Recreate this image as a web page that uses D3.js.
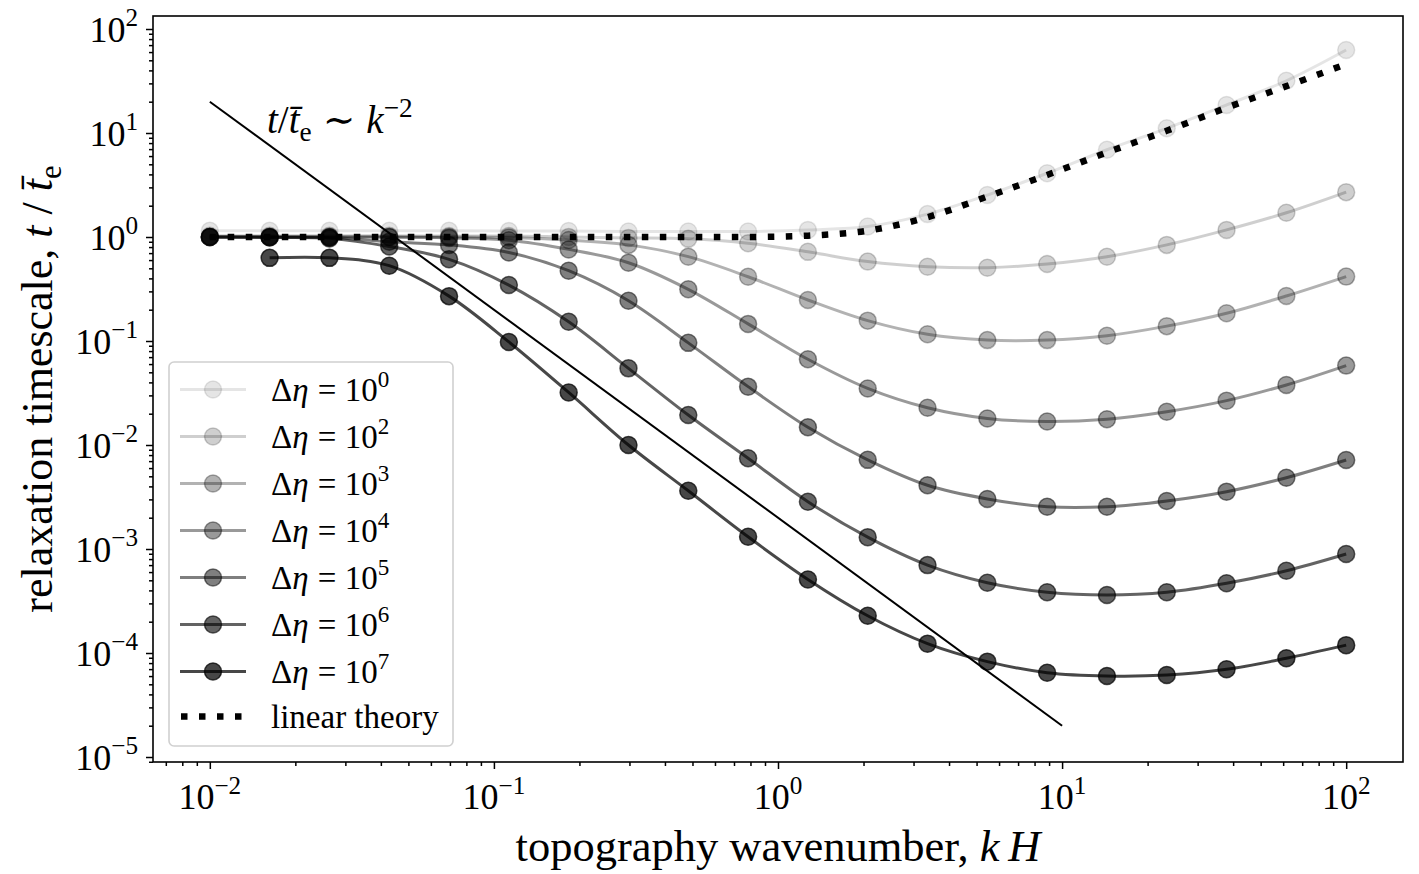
<!DOCTYPE html>
<html>
<head>
<meta charset="utf-8">
<script src="https://cdn.jsdelivr.net/npm/d3@7"></script>
<style>
  body { margin: 0; background: #fff; }
  text { font-family: "Liberation Serif", "DejaVu Serif", serif; fill: #000; }
</style>
</head>
<body>
<svg id="chart" width="1419" height="874"></svg>
<script>
// wavenumbers k H (20 log-spaced samples)
const kH = [0.01, 0.016238, 0.026367, 0.042813, 0.069519, 0.112884, 0.183298, 0.297635,
  0.483293, 0.78476, 1.274275, 2.069138, 3.359818, 5.455595, 8.858668, 14.3845,
  23.35721, 37.9269, 61.58482, 100];

const etaExp = ['0', '2', '3', '4', '5', '6', '7'];
const etaAlpha = [0.1, 0.19, 0.3, 0.4, 0.5, 0.61, 0.72];

const eta0 = [1.15, 1.15, 1.15, 1.15, 1.15, 1.14, 1.14, 1.13, 1.13, 1.13, 1.17, 1.26, 1.66, 2.53, 4.1, 6.9, 11.1, 18.6, 31.8, 62.8];
const eta2 = [1.03, 1.03, 1.03, 1.03, 1.02, 1.02, 1.0, 0.98, 0.96, 0.87, 0.72, 0.58, 0.518, 0.507, 0.55, 0.647, 0.84, 1.17, 1.71, 2.7];
const eta3 = [1.0, 1.0, 1.0, 1.0, 1.0, 0.99, 0.935, 0.84, 0.647, 0.415, 0.248, 0.157, 0.116, 0.102, 0.102, 0.1125, 0.139, 0.185, 0.271, 0.416];
const eta4 = [1.0, 1.0, 1.0, 1.0, 0.98, 0.93, 0.76, 0.566, 0.314, 0.146, 0.0667, 0.035, 0.0228, 0.018, 0.0168, 0.0177, 0.0209, 0.0267, 0.0378, 0.058];
const eta5 = [1.0, 1.0, 0.99, 0.9, 0.84, 0.71, 0.474, 0.244, 0.096, 0.0364, 0.0148, 0.0072, 0.0041, 0.00303, 0.00255, 0.00255, 0.0029, 0.00356, 0.00485, 0.00718];
const eta6 = [1.0, 0.99, 0.97, 0.81, 0.61, 0.345, 0.153, 0.0546, 0.0194, 0.00745, 0.00285, 0.0013, 7.0e-4, 4.74e-4, 3.84e-4, 3.61e-4, 3.84e-4, 4.68e-4, 6.18e-4, 8.95e-4];
const eta7 = [null, 0.63, 0.63, 0.53, 0.27, 0.098, 0.032, 0.01, 0.00363, 0.00131, 5.1e-4, 2.28e-4, 1.23e-4, 8.26e-5, 6.47e-5, 6.01e-5, 6.14e-5, 6.97e-5, 8.9e-5, 1.19e-4];
const series = [eta0, eta2, eta3, eta4, eta5, eta6, eta7];

const linearTheory = [1, 1, 1, 1, 1, 1, 1, 1, 1, 1.0, 1.03, 1.15, 1.55, 2.45, 3.95, 6.5, 10.5, 17.5, 28.2, 46];

// k^-2 guide line end points
const slopeK = [0.01, 10];
const slopeT = [20, 2e-5];

const xTickExp = [-2, -1, 0, 1, 2];
const yTickExp = [-5, -4, -3, -2, -1, 0, 1, 2];

const svg = d3.select('#chart');
const mLeft = 153, mRight = 1403, mTop = 16, mBottom = 762;

const x = d3.scaleLog().domain([Math.pow(10, -2.2), Math.pow(10, 2.2)]).range([mLeft, mRight]);
const y = d3.scaleLog().domain([Math.pow(10, -5.048), Math.pow(10, 2.125)]).range([mBottom, mTop]);

function minorTicks(scale) {
    const [a, b] = scale.domain();
    const out = [];
    for (let e = Math.floor(Math.log10(a)); e <= Math.ceil(Math.log10(b)); e++) {
        for (let m = 2; m < 10; m++) {
            const v = m * Math.pow(10, e);
            if (v >= a && v <= b) out.push(v);
        }
    }
    return out;
}

// rich text: parts of {t, it, sup, sub, dx}
function rich(sel, parts, size) {
    let shift = 0;
    parts.forEach((p) => {
        const target = p.sup ? -0.42 * size : p.sub ? 0.2 * size : 0;
        sel.append('tspan')
            .attr('dy', target - shift)
            .attr('dx', p.dx || 0)
            .attr('font-size', (p.sup || p.sub) ? size * 0.7 : size)
            .attr('font-style', p.it ? 'italic' : 'normal')
            .text(p.t);
        shift = target;
    });
}

const plot = svg.append('g');

// series
const line = d3.line()
    .defined((d) => d[1] != null)
    .x((d) => x(d[0]))
    .y((d) => y(d[1]))
    .curve(d3.curveCatmullRom.alpha(0.5));

series.forEach((vals, s) => {
    const pts = kH.map((k, i) => [k, vals[i]]);
    const g = plot.append('g');
    g.append('path')
        .datum(pts)
        .attr('d', line)
        .attr('fill', 'none')
        .attr('stroke', '#000')
        .attr('stroke-opacity', etaAlpha[s])
        .attr('stroke-width', 3);
    g.selectAll('circle')
        .data(pts.filter((d) => d[1] != null))
        .enter()
        .append('circle')
        .attr('cx', (d) => x(d[0]))
        .attr('cy', (d) => y(d[1]))
        .attr('r', 8.5)
        .attr('fill', '#000')
        .attr('fill-opacity', etaAlpha[s])
        .attr('stroke', '#000')
        .attr('stroke-opacity', etaAlpha[s])
        .attr('stroke-width', 1.5);
});

// linear theory
plot.append('path')
    .datum(kH.map((k, i) => [k, linearTheory[i]]))
    .attr('d', line)
    .attr('fill', 'none')
    .attr('stroke', '#000')
    .attr('stroke-width', 6.5)
    .attr('stroke-dasharray', '6.5,11.5');

// k^-2 slope
plot.append('line')
    .attr('x1', x(slopeK[0])).attr('y1', y(slopeT[0]))
    .attr('x2', x(slopeK[1])).attr('y2', y(slopeT[1]))
    .attr('stroke', '#000')
    .attr('stroke-width', 2);

const ann = svg.append('text').attr('x', 267).attr('y', 133);
rich(ann, [
    { t: 't', it: true }, { t: '/' }, { t: 't\u0304', it: true }, { t: 'e', sub: true },
    { t: '\u223C', dx: 11 }, { t: 'k', it: true, dx: 11 }, { t: '\u22122', sup: true }
], 39);

// axes
const xAxis = svg.append('g').attr('transform', `translate(0,${mBottom})`);
xAxis.call(d3.axisBottom(x).tickValues(xTickExp.map((e) => Math.pow(10, e))).tickSize(7).tickFormat(''));
xAxis.append('g').call(d3.axisBottom(x).tickValues(minorTicks(x)).tickSize(4).tickFormat(''));
const yAxis = svg.append('g').attr('transform', `translate(${mLeft},0)`);
yAxis.call(d3.axisLeft(y).tickValues(yTickExp.map((e) => Math.pow(10, e))).tickSize(7).tickFormat(''));
yAxis.append('g').call(d3.axisLeft(y).tickValues(minorTicks(y)).tickSize(4).tickFormat(''));
svg.selectAll('.domain').remove();
svg.selectAll('.tick line').attr('stroke', '#000').attr('stroke-width', 1.5);

const sup = (e) => (e < 0 ? '\u2212' + (-e) : String(e));

xTickExp.forEach((e) => {
    const t = svg.append('text')
        .attr('x', x(Math.pow(10, e)))
        .attr('y', 809)
        .attr('text-anchor', 'middle');
    rich(t, [{ t: '10' }, { t: sup(e), sup: true }], 36);
});
yTickExp.forEach((e) => {
    const t = svg.append('text')
        .attr('x', 138)
        .attr('y', y(Math.pow(10, e)) + 12.5)
        .attr('text-anchor', 'end');
    rich(t, [{ t: '10' }, { t: sup(e), sup: true }], 36);
});

// frame
svg.append('rect')
    .attr('x', mLeft).attr('y', mTop)
    .attr('width', mRight - mLeft).attr('height', mBottom - mTop)
    .attr('fill', 'none').attr('stroke', '#000').attr('stroke-width', 1.6);

// axis labels
const xl = svg.append('text').attr('x', (mLeft + mRight) / 2).attr('y', 861).attr('text-anchor', 'middle');
rich(xl, [{ t: 'topography wavenumber, ' }, { t: 'k', it: true }, { t: '\u2009' }, { t: 'H', it: true }], 44.5);

const yl = svg.append('text')
    .attr('transform', `translate(52,${(mTop + mBottom) / 2}) rotate(-90)`)
    .attr('text-anchor', 'middle');
rich(yl, [{ t: 'relaxation timescale, ' }, { t: 't', it: true }, { t: ' / ' }, { t: 't\u0304', it: true }, { t: 'e', sub: true }], 44);

// legend
const lg = svg.append('g');
lg.append('rect')
    .attr('x', 169).attr('y', 362).attr('width', 284).attr('height', 384)
    .attr('rx', 5)
    .attr('fill', '#fff').attr('fill-opacity', 0.8)
    .attr('stroke', '#d0d0d0').attr('stroke-width', 1.6);

const rowY = (i) => 389.5 + i * 47;
etaExp.forEach((ex, s) => {
    const cy = rowY(s);
    lg.append('line')
        .attr('x1', 180).attr('x2', 246).attr('y1', cy).attr('y2', cy)
        .attr('stroke', '#000').attr('stroke-opacity', etaAlpha[s]).attr('stroke-width', 3);
    lg.append('circle')
        .attr('cx', 213).attr('cy', cy).attr('r', 8.5)
        .attr('fill', '#000').attr('fill-opacity', etaAlpha[s])
        .attr('stroke', '#000').attr('stroke-opacity', etaAlpha[s]).attr('stroke-width', 1.5);
    const t = lg.append('text').attr('x', 271).attr('y', cy + 11);
    rich(t, [{ t: '\u0394' }, { t: '\u03B7', it: true }, { t: ' = 10', dx: 1 }, { t: ex, sup: true }], 33);
});
const ly = rowY(7) - 2;
lg.append('line')
    .attr('x1', 181).attr('x2', 246).attr('y1', ly).attr('y2', ly)
    .attr('stroke', '#000').attr('stroke-width', 6.5).attr('stroke-dasharray', '6.5,11.5');
lg.append('text').attr('x', 271).attr('y', ly + 11).attr('font-size', 33).text('linear theory');
</script>
</body>
</html>
